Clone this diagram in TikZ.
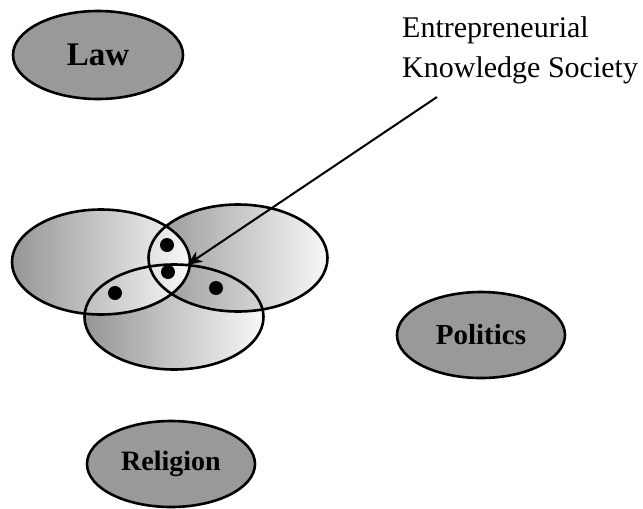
\documentclass[tikz,border=0pt]{standalone}
\usepackage{fontspec}
\setmainfont{Liberation Serif}
\usetikzlibrary{shapes.geometric,arrows.meta}

\definecolor{blobgray}{RGB}{153,153,153}
\definecolor{shadedark}{RGB}{150,150,150}
\definecolor{shadelight}{RGB}{248,248,248}

\tikzset{
  sphere/.style={ellipse, draw, line width=2.6pt, fill=blobgray, inner sep=0pt,
    minimum width=168pt, minimum height=86pt, font=\bfseries},
  bubble/.style={ellipse, inner sep=0pt, left color=shadedark, right color=shadelight},
  rim/.style={ellipse, draw, line width=2.6pt, inner sep=0pt},
  member/.style={circle, fill=black, inner sep=0pt, minimum size=14pt}
}

\begin{document}
\begin{tikzpicture}[x=1pt, y=-1pt]
  \useasboundingbox (0,0) rectangle (643,509);

  %Define nodes
  \node[sphere, minimum width=170pt, minimum height=88pt] (law) at (98,55)
    {\fontsize{33}{33}\selectfont Law};
  \node[sphere] (pol) at (481,335) {\fontsize{29}{29}\selectfont Politics};
  \node[sphere] (rel) at (171,464) {\fontsize{28}{28}\selectfont Religion};

  % Bubbles (bottom first, left on top)
  \node[bubble, minimum width=179pt, minimum height=105pt] (b) at (174,317) {};
  \node[bubble, minimum width=179pt, minimum height=107pt] (r) at (238,258) {};
  \node[bubble, minimum width=178pt, minimum height=105pt] (l) at (101,262) {};
  \node[rim, minimum width=179pt, minimum height=105pt] at (b) {};
  \node[rim, minimum width=179pt, minimum height=107pt] at (r) {};
  \node[rim, minimum width=178pt, minimum height=105pt] at (l) {};

  \node[member] (lr)  at (167,245) {};
  \node[member] (lrb) at (168,272) {};
  \node[member] (lb)  at (115,293) {};
  \node[member] (rb)  at (216,288) {};

  \node[anchor=base west, align=left, inner sep=0pt,
    font=\fontsize{30}{40}\selectfont] (eks) at (402,77)
    {Entrepreneurial\\Knowledge Society};

  % Connect the nodes
  \coordinate (tail) at (437,97);
  \coordinate (tip) at (187,265);
  \draw[-{Stealth[length=15pt, width=12pt, inset=4pt]}, line width=2pt] (tail) -- (tip);

\end{tikzpicture}
\end{document}
